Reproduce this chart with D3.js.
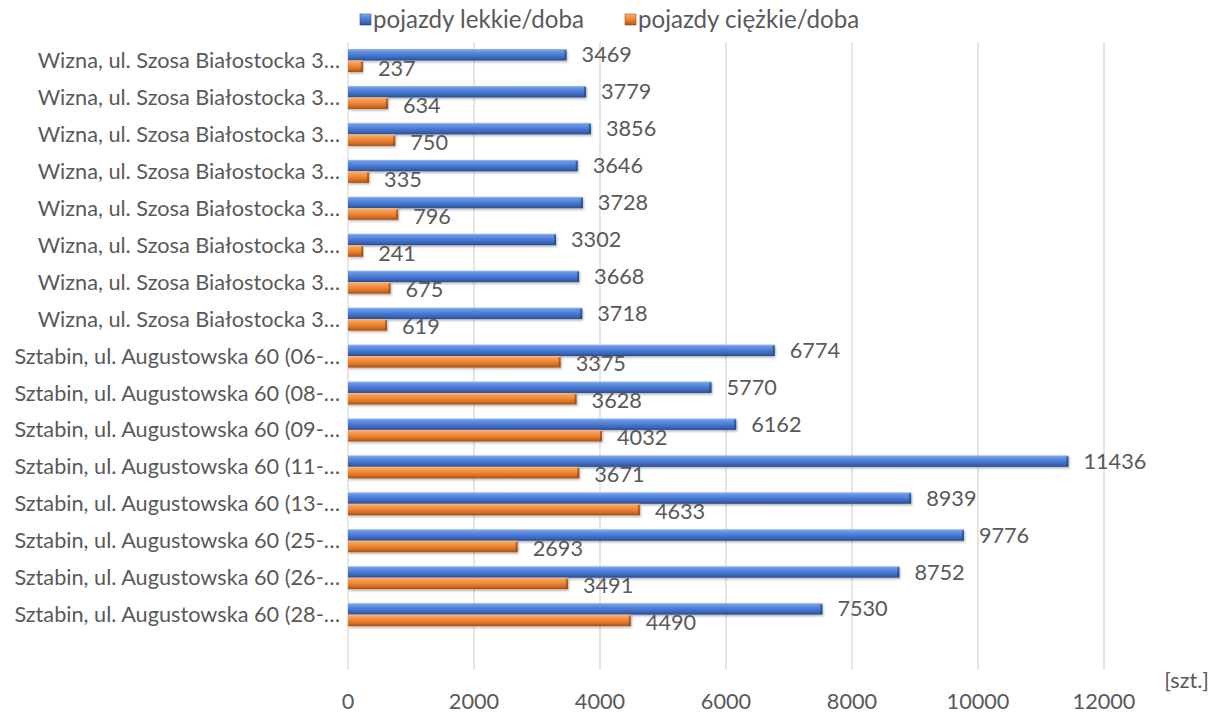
<!DOCTYPE html>
<html><head><meta charset="utf-8">
<script src="https://cdn.jsdelivr.net/npm/d3@7"></script>
<style>
body{margin:0;background:#fff;}
svg text{font-family:Lato,"Open Sans",sans-serif;fill:#595959;}
</style></head>
<body><svg id="c" width="1212" height="714"></svg>
<script>
const categories = [
"Wizna, ul. Szosa Białostocka 3…","Wizna, ul. Szosa Białostocka 3…","Wizna, ul. Szosa Białostocka 3…","Wizna, ul. Szosa Białostocka 3…",
"Wizna, ul. Szosa Białostocka 3…","Wizna, ul. Szosa Białostocka 3…","Wizna, ul. Szosa Białostocka 3…","Wizna, ul. Szosa Białostocka 3…",
"Sztabin, ul. Augustowska 60 (06-…","Sztabin, ul. Augustowska 60 (08-…","Sztabin, ul. Augustowska 60 (09-…","Sztabin, ul. Augustowska 60 (11-…",
"Sztabin, ul. Augustowska 60 (13-…","Sztabin, ul. Augustowska 60 (25-…","Sztabin, ul. Augustowska 60 (26-…","Sztabin, ul. Augustowska 60 (28-…"];
const lekkie = [3469,3779,3856,3646,3728,3302,3668,3718,6774,5770,6162,11436,8939,9776,8752,7530];
const ciezkie = [237,634,750,335,796,241,675,619,3375,3628,4032,3671,4633,2693,3491,4490];
const seriesNames = ["pojazdy lekkie/doba","pojazdy ciężkie/doba"];
const xTicks = [0,2000,4000,6000,8000,10000,12000];
const unitLabel = "[szt.]";

(function(){
const svg = d3.select("#c");
function fit(text, target){
  const p = svg.append("text").attr("font-size",20).text(text);
  const w = p.node().getComputedTextLength(); p.remove();
  return Math.round(20 * target / w * 10) / 10;
}
const fs = fit(categories[0], 303);
const fsLeg = fit(seriesNames[0], 211);

const pL = 348, pR = 1104, pT = 42, pB = 670;
const step = (pB - pT) / 17;
const x = d3.scaleLinear().domain([0,12000]).range([pL,pR]);
const idx = categories.map((d,i)=>i);
const y = d3.scaleBand().domain(idx).range([pT, pT + 16*step]).padding(0);

const defs = svg.append("defs");
function grad(id, stops){
  const g = defs.append("linearGradient").attr("id",id).attr("x1",0).attr("y1",0).attr("x2",0).attr("y2",1);
  stops.forEach(s=>g.append("stop").attr("offset",s[0]).attr("stop-color",s[1]));
}
grad("gb",[[0,"#9dbcf0"],[0.15,"#6a98e6"],[0.5,"#4a7bd6"],[0.8,"#3a64b4"],[1,"#2a4a8a"]]);
grad("go",[[0,"#fbc08c"],[0.15,"#f7a25a"],[0.5,"#ee8534"],[0.8,"#d06a20"],[1,"#a04d12"]]);
const shadow = defs.append("filter").attr("id","sh").attr("x","-5%").attr("y","-50%").attr("width","110%").attr("height","200%");
shadow.append("feDropShadow").attr("dx",1).attr("dy",1.5).attr("stdDeviation",1.2).attr("flood-color","#000").attr("flood-opacity",0.3);

svg.append("g").selectAll("line").data(xTicks).join("line")
  .attr("x1",d=>x(d)).attr("x2",d=>x(d)).attr("y1",pT).attr("y2",pB)
  .attr("stroke","#d9d9d9").attr("stroke-width",1.3);

svg.append("g").selectAll("text").data(xTicks).join("text")
  .attr("x",d=>x(d)).attr("y",701).attr("dy","0.35em").attr("text-anchor","middle")
  .attr("font-size",fs).text(d=>d);
svg.append("text").attr("x",1209).attr("y",680).attr("dy","0.35em").attr("text-anchor","end").attr("font-size",fs).text(unitLabel);

svg.append("g").selectAll("text").data(idx).join("text")
  .attr("x",340).attr("y",d=>y(d)+y.bandwidth()/2).attr("dy","0.35em")
  .attr("text-anchor","end").attr("font-size",fs).text(d=>categories[d]);

const bh = 11.5;
function bars(vals, off, fill, cap, labOff){
  const g = svg.append("g");
  g.selectAll("rect.b").data(idx).join("rect").attr("class","b")
    .attr("x",x(0)).attr("y",d=>y(d)+off).attr("width",d=>x(vals[d])-x(0)).attr("height",bh)
    .attr("fill",`url(#${fill})`).attr("filter","url(#sh)");
  g.selectAll("rect.c").data(idx).join("rect").attr("class","c")
    .attr("x",d=>x(vals[d])-2).attr("y",d=>y(d)+off+1).attr("width",2).attr("height",bh-2)
    .attr("fill",cap).attr("opacity",0.6);
  g.selectAll("text").data(idx).join("text")
    .attr("x",d=>x(vals[d])+15).attr("y",d=>y(d)+off+bh/2+labOff).attr("dy","0.35em")
    .attr("font-size",fs).text(d=>vals[d]);
}
bars(lekkie, 7, "gb", "#203c70", 0);
bars(ciezkie, 7+bh, "go", "#8a3f0a", 2);

const leg = [{n:seriesNames[0],f:"gb",x:360},{n:seriesNames[1],f:"go",x:625}];
const lg = svg.append("g");
lg.selectAll("rect").data(leg).join("rect").attr("x",d=>d.x).attr("y",14).attr("width",11).attr("height",11)
  .attr("fill",d=>`url(#${d.f})`).attr("stroke",d=>d.f==="gb"?"#2a4a8a":"#a04d12").attr("stroke-width",0.6);
lg.selectAll("text").data(leg).join("text").attr("x",d=>d.x+13).attr("y",20).attr("dy","0.35em")
  .attr("font-size",fsLeg).text(d=>d.n);
})();
</script></body></html>
